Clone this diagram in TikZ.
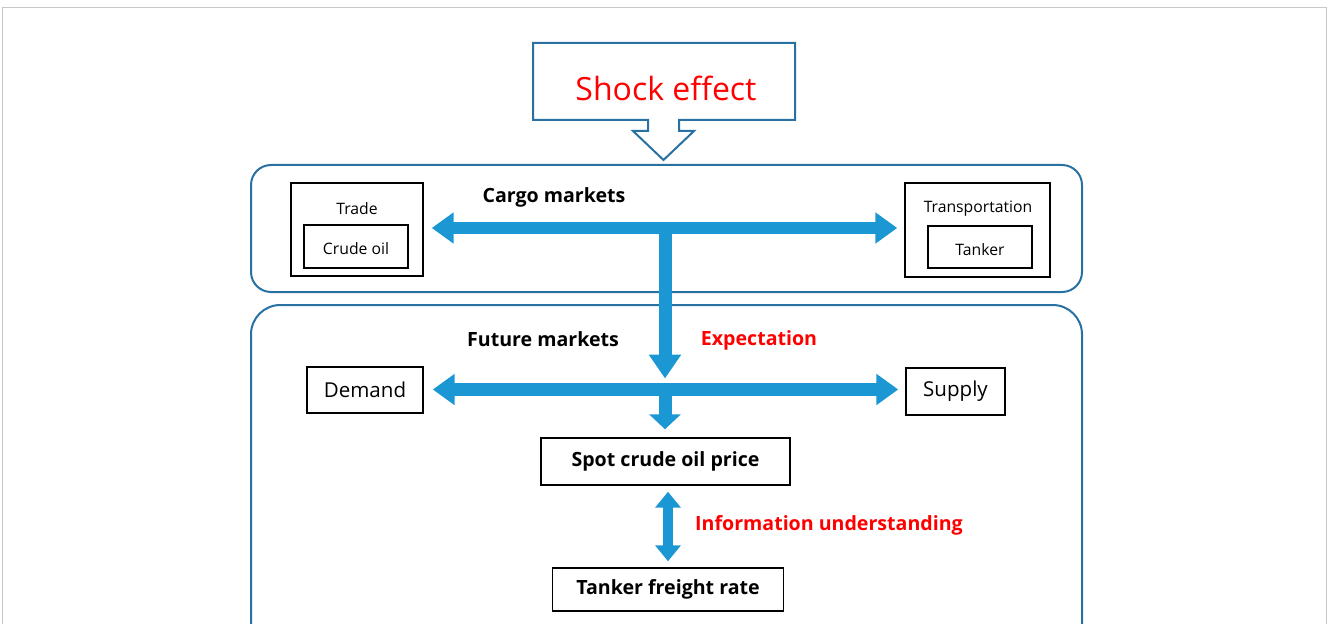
\documentclass[tikz,border=0pt]{standalone}
\usepackage{fontspec}
\setmainfont{Open Sans}
\usetikzlibrary{arrows.meta}
\definecolor{boxblue}{RGB}{41,113,163}
\definecolor{arrfill}{RGB}{27,152,212}
\definecolor{framegray}{RGB}{200,200,200}
\tikzset{
  blk/.style={draw=black, line width=1.1pt, inner sep=0pt},
  grp/.style={draw=boxblue, line width=1.5pt},
  bigarrow/.style={draw=arrfill, line width=9pt},
  hd/.tip={Triangle[length=16.5pt,width=22.5pt]},
  smallf/.style={font=\fontsize{11.8pt}{14pt}\selectfont},
  midf/.style={font=\fontsize{15.4pt}{18pt}\selectfont},
  boldf/.style={font=\fontsize{14.7pt}{17pt}\selectfont\bfseries},
  redlab/.style={boldf, text=red}
}
\begin{document}
\begin{tikzpicture}[x=0.75pt,y=-0.75pt]
\useasboundingbox (0,0) rectangle (1328,624);
\clip (0,0) rectangle (1328,624);
\draw[framegray, line width=0.75pt] (2,700) -- (2,8) -- (1326,8) -- (1326,700);

% shock callout
\draw[boxblue, line width=1.5pt, fill=white] (533,43) -- (795,43) -- (795,120) -- (679,120) -- (679,131) -- (694,131) -- (663.5,160) -- (633,131) -- (648,131) -- (648,120) -- (533,120) -- cycle;
\node[text=red, font=\fontsize{24pt}{28pt}\selectfont] (shock) at (666,88) {Shock effect};

% group boxes
\draw[grp, rounded corners=15pt] (251,165) rectangle (1082,292);
\draw[grp, rounded corners=22pt] (251,305) rectangle (1082,720);

% cargo markets
\node[blk, minimum width=99pt, minimum height=69.75pt] (trade) at (357,229.5) {};
\node[smallf] (tradelab) at (357,209) {Trade};
\node[blk, minimum width=78pt, minimum height=32.25pt] (crude) at (356,246.5) {};
\node[smallf] (crudelab) at (356,249) {Crude oil};
\node[blk, minimum width=108.75pt, minimum height=70.5pt] (transp) at (977.5,230) {};
\node[smallf] (transplab) at (978,209) {Transportation};
\node[blk, minimum width=78pt, minimum height=31.5pt] (tanker) at (980,247) {};
\node[smallf] (tankerlab) at (980,250) {Tanker};
\node[boldf] (cargo) at (554,197) {Cargo markets};

% future markets
\node[boldf] (future) at (543,339) {Future markets};
\node[redlab] (expect) at (759,340) {Expectation};
\node[blk, midf, minimum width=87pt, minimum height=34.5pt] (demand) at (365,390) {Demand};
\node[blk, midf, minimum width=74.25pt, minimum height=35.25pt] (supply) at (955.5,391.5) {Supply};
\node[blk, boldf, minimum width=186.75pt, minimum height=35.25pt] (spot) at (665.5,461.5) {Spot crude oil price};
\node[blk, boldf, minimum width=173.25pt, minimum height=32.25pt] (freight) at (668,589.5) {Tanker freight rate};
\node[redlab] (info) at (829,525) {Information understanding};

% connectors
\coordinate (cj) at (665,228);
\coordinate (fj) at (665,389.5);
\draw[bigarrow, hd-hd, shorten <=6pt, shorten >=5.25pt] (trade.east |- cj) -- (transp.west |- cj);
\draw[bigarrow, line width=9.75pt, -{Triangle[length=18pt,width=23.25pt]}, shorten >=8.25pt] (cj) -- (fj);
\draw[bigarrow, line width=9.75pt, hd-hd, shorten <=6.75pt, shorten >=5.25pt] (demand.east |- fj) -- (supply.west |- fj);
\draw[bigarrow, line width=9.75pt, -{Triangle[length=11.25pt,width=23.25pt]}, shorten >=6pt] (fj) -- (fj |- spot.north);
\draw[bigarrow, line width=7.5pt, {Triangle[length=12pt,width=18.75pt]}-{Triangle[length=12pt,width=18.75pt]}, shorten <=4.5pt, shorten >=4.5pt] (freight.north |- spot.south) -- (freight.north);
\end{tikzpicture}
\end{document}
